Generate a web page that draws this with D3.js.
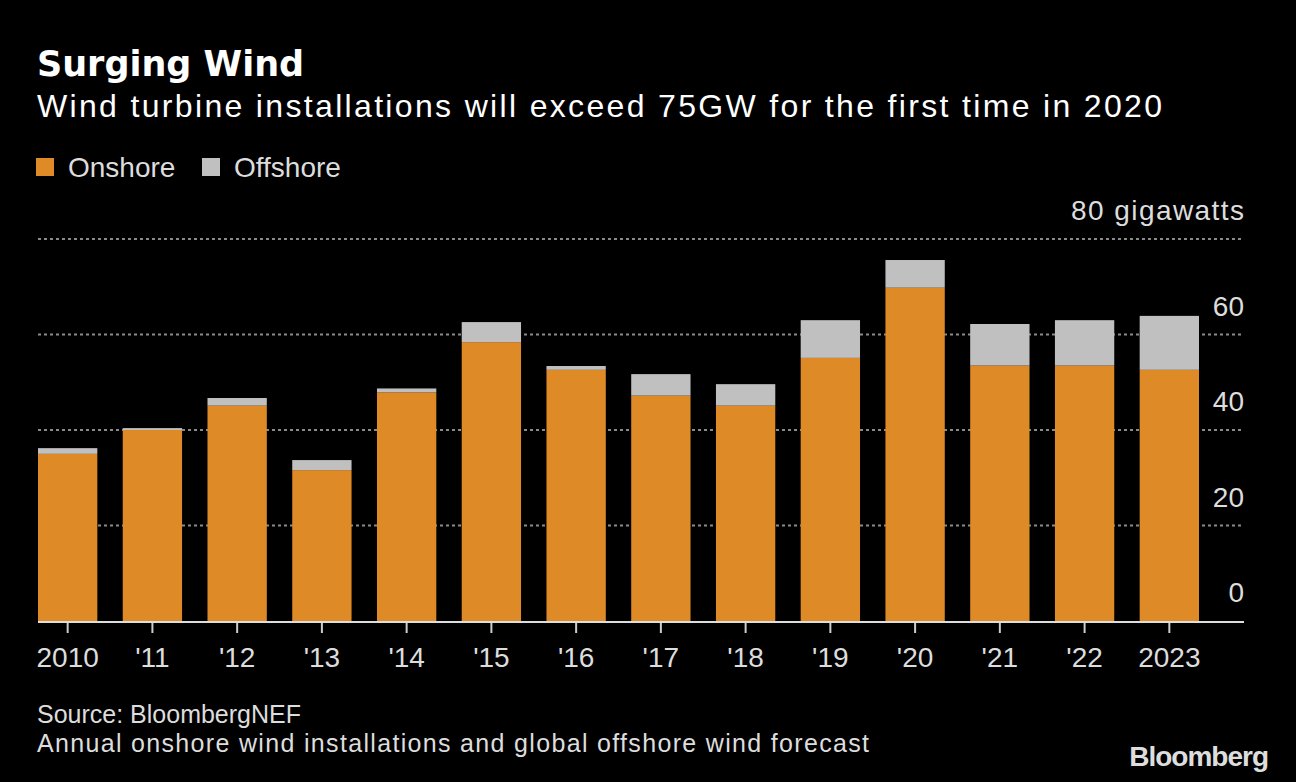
<!DOCTYPE html>
<html>
<head>
<meta charset="utf-8">
<script src="https://cdn.jsdelivr.net/npm/d3@7"></script>
<style>
  html, body { margin: 0; padding: 0; background: #000; }
  svg { display: block; }
  text { font-family: "Liberation Sans", Arial, sans-serif; }
</style>
</head>
<body>
<svg id="chart"></svg>
<script>
// data (GW)
var years = ["2010", "'11", "'12", "'13", "'14", "'15", "'16", "'17", "'18", "'19", "'20", "'21", "'22", "2023"];
var onshore = [35.0, 40.0, 45.1, 31.6, 47.9, 58.4, 52.6, 47.2, 45.1, 55.1, 69.8, 53.5, 53.5, 52.6];
var offshore = [1.2, 0.4, 1.6, 2.1, 0.8, 4.2, 0.8, 4.5, 4.5, 7.9, 5.8, 8.7, 9.5, 11.3];
var yTicks = [0, 20, 40, 60, 80];
var seriesNames = ["Onshore", "Offshore"];
var colors = ["#dd8a27", "#c0c0c0"];

var W = 1296, H = 782;
var left = 38, barsRight = 1199, gridRight = 1244;
var plotTop = 239, plotBottom = 621;

var svg = d3.select("#chart").attr("width", W).attr("height", H);
svg.append("rect").attr("width", W).attr("height", H).attr("fill", "#000");

// titles
svg.append("text").attr("x", 37).attr("y", 76)
    .attr("font-size", 35).attr("font-weight", "bold").attr("fill", "#fff")
    .style("font-family", "'DejaVu Sans', sans-serif")
    .text("Surging Wind");
svg.append("text").attr("x", 37).attr("y", 117)
    .attr("font-size", 32).attr("fill", "#fff")
    .attr("textLength", 1125).attr("lengthAdjust", "spacing")
    .text("Wind turbine installations will exceed 75GW for the first time in 2020");

// legend
var legX = [36, 202];
seriesNames.forEach(function(n, i) {
    svg.append("rect").attr("x", legX[i]).attr("y", 158).attr("width", 18).attr("height", 18)
        .attr("fill", colors[i]);
    svg.append("text").attr("x", legX[i] + 32).attr("y", 177)
        .attr("font-size", 28).attr("fill", "#ddd").text(n);
});

var table = years.map(function(y, i) {
    return {year: y, Onshore: onshore[i], Offshore: offshore[i]};
});
var stack = d3.stack().keys(seriesNames)(table);

var x = d3.scaleBand().domain(years).range([left, barsRight]).paddingInner(0.3).paddingOuter(0);
var y = d3.scaleLinear().domain([0, 80]).range([plotBottom, plotTop]);

// grid
svg.append("g").selectAll("line")
    .data(yTicks.filter(function(d) { return d > 0; }))
    .enter()
    .append("line")
    .attr("x1", left).attr("x2", gridRight)
    .attr("y1", function(d) { return y(d); })
    .attr("y2", function(d) { return y(d); })
    .attr("stroke", "#8a8a8a")
    .attr("stroke-width", 2)
    .attr("stroke-dasharray", "3,3");

// bars
svg.append("g").selectAll("g")
    .data(stack)
    .enter()
    .append("g")
    .attr("fill", function(d, i) { return colors[i]; })
    .selectAll("rect")
    .data(function(d) { return d; })
    .enter()
    .append("rect")
    .attr("x", function(d) { return x(d.data.year); })
    .attr("width", x.bandwidth())
    .attr("y", function(d) { return y(d[1]); })
    .attr("height", function(d) { return y(d[0]) - y(d[1]); });

// y labels
svg.append("g").selectAll("text")
    .data(yTicks)
    .enter()
    .append("text")
    .attr("x", gridRight)
    .attr("y", function(d) { return y(d) - 19; })
    .attr("text-anchor", "end")
    .attr("font-size", 28)
    .attr("fill", "#ddd")
    .each(function(d) {
        if (d === 80) d3.select(this).attr("textLength", 173).attr("lengthAdjust", "spacing");
    })
    .text(function(d) { return d === 80 ? "80 gigawatts" : d; });

// x axis
var xAxis = svg.append("g").attr("transform", "translate(0," + plotBottom + ")")
    .call(d3.axisBottom(x).tickSize(12).tickPadding(14));
xAxis.select(".domain").remove();
xAxis.selectAll("line").attr("stroke", "#ccc").attr("stroke-width", 2);
xAxis.selectAll("text").attr("fill", "#ddd").attr("font-size", 28)
    .style("font-family", "'Liberation Sans', Arial, sans-serif");
svg.append("line").attr("x1", left).attr("x2", gridRight)
    .attr("y1", plotBottom + 1).attr("y2", plotBottom + 1)
    .attr("stroke", "#ddd").attr("stroke-width", 2);

// footer
svg.append("text").attr("x", 37).attr("y", 723).attr("font-size", 25).attr("fill", "#ddd")
    .text("Source: BloombergNEF");
svg.append("text").attr("x", 37).attr("y", 752).attr("font-size", 25).attr("fill", "#ddd")
    .attr("textLength", 832).attr("lengthAdjust", "spacing")
    .text("Annual onshore wind installations and global offshore wind forecast");
svg.append("text").attr("x", 1268).attr("y", 766).attr("text-anchor", "end")
    .attr("font-size", 28).attr("font-weight", "bold").attr("fill", "#ddd")
    .attr("letter-spacing", -1)
    .text("Bloomberg");
</script>
</body>
</html>
